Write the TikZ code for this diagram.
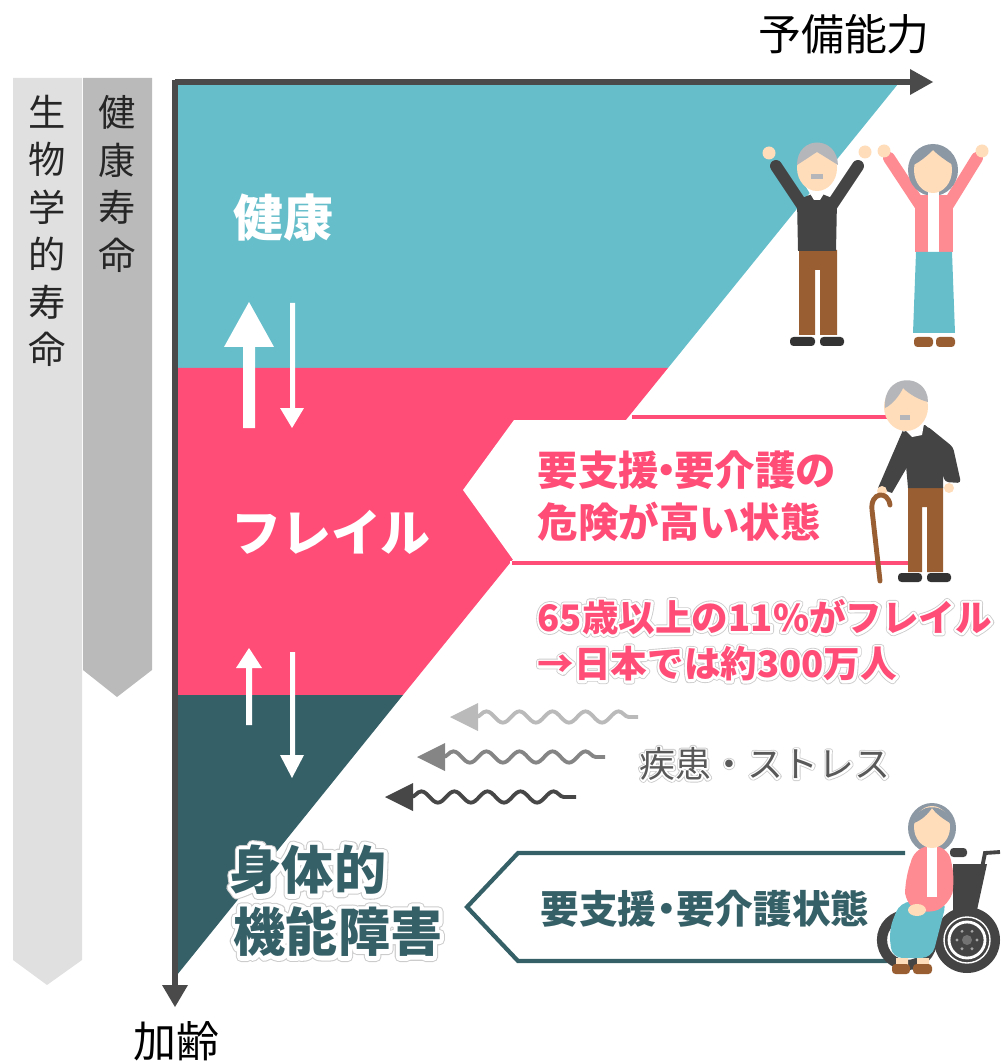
\documentclass[tikz,border=0pt]{standalone}
\usepackage{fontspec}
\usetikzlibrary{decorations.pathmorphing}
\setmainfont{Noto Sans CJK JP}
\definecolor{healthcol}{HTML}{66BECB}
\definecolor{frailcol}{HTML}{FF4D77}
\definecolor{disabcol}{HTML}{366067}
\definecolor{axiscol}{HTML}{4A4A4A}
\definecolor{skincol}{HTML}{FFDDBB}
\definecolor{pantscol}{HTML}{995F33}
\definecolor{jumpercol}{HTML}{444444}
\definecolor{rosecol}{HTML}{FF8B92}
\definecolor{whitehair}{HTML}{B4B6B9}
\definecolor{greyhair}{HTML}{8C98A4}
\newcommand{\fsize}[1]{\fontsize{#1}{#1}\selectfont}
% text with a white rim and a thin grey edge round it
\newcommand{\strokedtext}[3]{\rlap{\special{pdf:code 1 j 1 Tr #1 w #2 RG}#3\special{pdf:code 0 Tr}}}
\newcommand{\rimtext}[3]{\strokedtext{#1}{0.8 0.8 0.8}{#3}\strokedtext{#2}{1 1 1}{#3}#3}
\tikzset{
  axisline/.style={draw=axiscol, line width=1.45pt},
  lifetext/.style={align=center, font=\fontsize{10.6}{13.5}\selectfont, text=black!85},
  bigword/.style={font=\fsize{14.2}\bfseries, text=white},
  riskword/.style={anchor=west, inner sep=0pt, font=\fsize{11.5}\bfseries, text=frailcol},
  rateword/.style={anchor=west, inner sep=0pt, font=\fsize{10.4}\bfseries, text=frailcol},
  disabword/.style={font=\fsize{14.8}\bfseries, text=disabcol},
  limb/.style={line width=#1, line cap=round},
}
\begin{document}
\begin{tikzpicture}[x=0.01cm,y=-0.01cm]
 \useasboundingbox (0,0) rectangle (1000,1061);

 % the two life spans on the left
 \fill[black!12] (13,78) -- (82,78) -- (82,960) -- (47,985) -- (13,960) -- cycle;
 \fill[black!27] (83,78) -- (152,78) -- (152,670) -- (117,697) -- (83,670) -- cycle;
 \node[lifetext] (biolife) at (47,231) {生\\物\\学\\的\\寿\\命};
 \node[lifetext] (healthlife) at (117,184) {健\\康\\寿\\命};

 % the three states
 \fill[healthcol] (177,84) -- (898,84) -- (668,368) -- (177,368) -- cycle;
 \fill[frailcol] (177,368) -- (668,368) -- (403,695) -- (177,695) -- cycle;
 \fill[disabcol] (177,695) -- (403,695) -- (177,975) -- cycle;

 % callouts
 \fill[white] (632,415) -- (890,415) -- (905,566) -- (510,566) -- (510,561) -- (514,561) -- (463,490) -- (514,420) -- (628,420) -- cycle;
 \draw[frailcol, line width=1.4pt] (632,417) -- (890,417);
 \draw[frailcol, line width=1.4pt] (512,563) -- (908,563);
 \draw[disabcol, line width=1.2pt, fill=white] (905,853) -- (518,853) -- (467,907) -- (518,961) -- (900,961);

 % axes
 \draw[axisline] (175,82) -- (915,82);
 \fill[axiscol] (910,69) -- (933,82) -- (910,95) -- cycle;
 \draw[axisline] (175,80) -- (175,990);
 \fill[axiscol] (162,985) -- (175,1007) -- (188,985) -- cycle;
 \node (capacity) at (844,34) {\fsize{12.2}予備能力};
 \node (ageing) at (176,1041) {\fsize{12.2}加齢};

 % transitions between the states
 \fill[white] (243,428) -- (255,428) -- (255,347) -- (274,347) -- (249,302) -- (224,347) -- (243,347) -- cycle;
 \fill[white] (290,303) -- (295,303) -- (295,408) -- (304,408) -- (292,428) -- (280,408) -- (290,408) -- cycle;
 \fill[white] (246,725) -- (252,725) -- (252,668) -- (262,668) -- (249,648) -- (236,668) -- (246,668) -- cycle;
 \fill[white] (290,652) -- (295,652) -- (295,755) -- (304,755) -- (292,778) -- (280,755) -- (290,755) -- cycle;

 % disease and stress
 \foreach \wy/\wx/\wlen/\wcol in {717/450/162/black!27, 757/417/162/black!48, 797/385/165/black!72} {
  \fill[\wcol] (\wx,\wy) -- (\wx+28,\wy-14) -- (\wx+28,\wy+14) -- cycle;
  \draw[\wcol, line width=1.1pt, decorate, decoration={snake, segment length=9.4pt, amplitude=1.6pt}]
    (\wx+26,\wy) -- (\wx+26+\wlen,\wy);
 }
 \node[text=black!65, font=\fsize{10.2}] (stress) at (765,764) {\rimtext{1.4}{0.9}{疾患・ストレス}};

 \node[bigword] (health) at (283,218) {健康};
 \node[bigword] (frail) at (331,532) {フレイル};
 \node[disabword] (disab1) at (308,870) {\rimtext{2.9}{2.3}{身体的}};
 \node[disabword] (disab2) at (338,932) {\rimtext{2.9}{2.3}{機能障害}};

 \node[riskword] (risk1) at (537,470) {要支援\kern-3.6pt・\kern-3.6pt要介護の};
 \node[riskword] (risk2) at (537,522) {危険が高い状態};
 \node[rateword] (rate) at (537,617) {\rimtext{1.8}{1.3}{65歳以上の11\%がフレイル}};
 \node[rateword] (count) at (537,664) {\rimtext{1.8}{1.3}{→日本では約300万人}};
 \node[font=\fsize{11}\bfseries, text=disabcol] (care) at (705,909) {要支援\kern-2.7pt・\kern-2.7pt要介護状態};

 % man with raised arms
 \draw[jumpercol, limb=3.4pt] (776,166) -- (804,208);
 \draw[jumpercol, limb=3.4pt] (858,166) -- (830,208);
 \fill[skincol] (769,153) circle (6.5) (865,152) circle (6.5);
 \fill[pantscol] (799,250) -- (837,250) -- (837,335) -- (820,335) -- (820,270) -- (815,270) -- (815,335) -- (799,335) -- cycle;
 \fill[jumpercol] (797,200) -- (817,192) -- (837,200) -- (836,251) -- (798,251) -- cycle;
 \fill[black!80, rounded corners=1pt] (790,337) rectangle (815,346) (820,337) rectangle (844,346);
 \fill[white] (806,187) -- (828,187) -- (820,200) -- (814,200) -- cycle;
 \fill[skincol] (817,168) ellipse (20 and 23);
 \fill[whitehair] (797,165) .. controls (797,135) and (837,135) .. (838,165) .. controls (830,160) and (822,155) .. (817,152) .. controls (812,155) and (805,160) .. (797,165) -- cycle;
 \fill[whitehair] (811,174) rectangle (823,179);

 % woman with raised arms
 \draw[rosecol, limb=3.4pt] (889,158) -- (920,205);
 \draw[rosecol, limb=3.4pt] (977,158) -- (948,205);
 \fill[skincol] (884,151) circle (6.5) (982,151) circle (6.5);
 \fill[greyhair] (933,170) ellipse (25 and 26);
 \fill[rosecol] (915,195) -- (953,195) -- (953,252) -- (915,252) -- cycle;
 \fill[white] (928,192) rectangle (939,252);
 \fill[skincol] (933,170) ellipse (19 and 23);
 \fill[greyhair] (913,165) .. controls (915,140) and (950,140) .. (953,165) .. controls (945,160) and (938,155) .. (933,150) .. controls (928,155) and (920,162) .. (913,165) -- cycle;
 \fill[healthcol] (916,252) -- (952,252) -- (955,333) -- (913,333) -- cycle;
 \fill[pantscol, rounded corners=1pt] (914,337) rectangle (933,347) (936,337) rectangle (955,347);

 % man with a walking stick
 \fill[jumpercol] (903,430) -- (878,488) -- (892,493) -- (910,462) -- cycle;
 \fill[jumpercol, rounded corners=1pt] (927,426) -- (953,447) -- (961,483) -- (945,482) -- (935,450) -- cycle;
 \fill[skincol] (882,491) circle (5) (949,488) circle (5);
 \draw[pantscol, line width=1.4pt, line cap=round] (880,581) -- (872,510) .. controls (870,492) and (888,490) .. (890,505);
 \fill[pantscol] (908,487) -- (943,487) -- (943,572) -- (927,572) -- (927,507) -- (922,507) -- (922,572) -- (908,572) -- cycle;
 \fill[jumpercol] (903,432) -- (925,425) -- (943,440) -- (943,488) -- (908,488) -- cycle;
 \fill[black!80, rounded corners=1pt] (898,573) rectangle (922,582) (927,573) rectangle (951,582);
 \fill[white] (900,425) -- (925,418) -- (922,435) -- (912,437) -- cycle;
 \fill[skincol] (906,407) ellipse (22 and 24);
 \fill[whitehair] (885,408) .. controls (882,372) and (928,372) .. (928,402) .. controls (920,400) and (910,395) .. (903,388) .. controls (900,395) and (892,405) .. (885,408) -- cycle;
 \fill[whitehair] (900,415) rectangle (910,420);

 % woman in the wheelchair
 \fill[jumpercol] (953,864) -- (987,864) -- (977,910) -- (953,910) -- cycle;
 \fill[jumpercol, rounded corners=1pt] (950,848) rectangle (967,857);
 \draw[jumpercol, line width=1.1pt] (982,868) -- (985,853) -- (1000,852);
 \draw[jumpercol, line width=2.9pt] (907,940) circle (25);
 \fill[jumpercol] (967,940) circle (33);
 \draw[white, line width=0.4pt] (967,940) circle (23);
 \draw[white, line width=0.8pt] (967,940) circle (18);
 \fill[black!55] (967,940) circle (5);
 \foreach \spk in {0,60,...,300} \fill[black!35] (967,940) ++(\spk:10) circle (1.6);
 \fill[healthcol, rounded corners=3pt] (900,902) -- (947,900) -- (932,958) -- (892,958) -- (889,930) -- cycle;
 \fill[skincol] (896,958) rectangle (908,966) (917,958) rectangle (929,966);
 \fill[pantscol, rounded corners=1pt] (892,964) rectangle (910,974) (913,964) rectangle (932,974);
 \fill[greyhair] (932,828) ellipse (24 and 25);
 \fill[rosecol, rounded corners=4pt] (916,846) -- (948,846) -- (955,880) -- (950,905) -- (925,915) -- (905,905) -- (905,880) -- cycle;
 \fill[white] (927,847) rectangle (937,897);
 \fill[skincol] (917,910) ellipse (9 and 6);
 \fill[skincol] (932,827) ellipse (18 and 21);
 \fill[greyhair] (914,823) .. controls (916,802) and (948,802) .. (950,823) .. controls (942,818) and (936,814) .. (932,808) .. controls (928,814) and (922,820) .. (914,823) -- cycle;
\end{tikzpicture}
\end{document}
